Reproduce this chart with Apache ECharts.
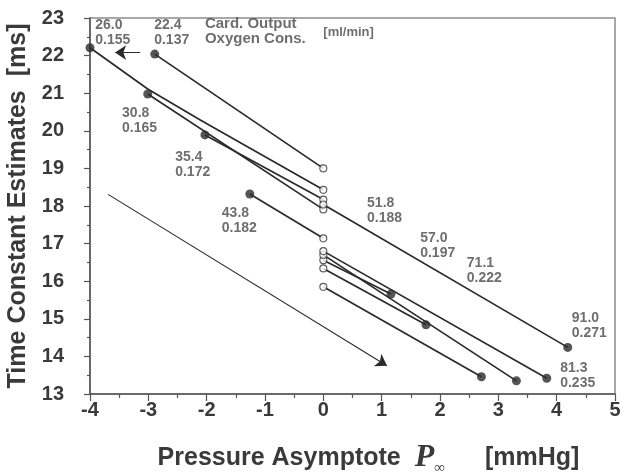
<!DOCTYPE html>
<html>
<head>
<meta charset="utf-8">
<script src="https://cdn.jsdelivr.net/npm/echarts@6/dist/echarts.min.js"></script>
<style>
html, body { margin: 0; padding: 0; background: #fff; }
#chart { width: 627px; height: 475px; }
</style>
</head>
<body>
<div id="chart"></div>
<script>
// filled dot = estimate with P-inf free, open circle = same run with P-inf = 0
const filledX = [-4.0, -2.89, -3.01, -2.03, -1.26, 1.16, 1.76, 2.71, 3.31, 3.83, 4.19]
const filledY = [22.21, 22.04, 20.98, 19.89, 18.32, 15.66, 14.84, 13.46, 13.35, 13.42, 14.24]
const openX = [0, 0, 0, 0, 0, 0, 0, 0, 0, 0, 0]
const openY = [18.43, 19.0, 17.91, 18.17, 17.14, 16.56, 16.34, 15.85, 16.7, 16.8, 18.04]
// extra points read along the first (slightly bent) track, 26.0 -> circle
const bendX = [-3.01, -2.11]
const bendY = [21.11, 20.29]

// arrows (data coords)
const trendArrow = [[-3.69, 18.31], [1.09, 13.75]]
const outputArrow = [[-3.14, 22.08], [-3.57, 22.08]]

// annotations: cardiac output / oxygen consumption
const noteText = [
  '26.0\n0.155', '22.4\n0.137',
  '30.8\n0.165', '35.4\n0.172', '43.8\n0.182',
  '51.8\n0.188', '57.0\n0.197', '71.1\n0.222',
  '91.0\n0.271', '81.3\n0.235'
]
const noteX = [-3.91, -2.9, -3.45, -2.54, -1.74, 0.75, 1.66, 2.46, 4.26, 4.06]
const noteY = [22.61, 22.61, 20.27, 19.1, 17.61, 17.87, 16.94, 16.28, 14.81, 13.48]
const keyNote = { text: 'Card. Output\nOxygen Cons.', x: -2.03, y: 22.65 }
const unitNote = { text: '[ml/min]', x: 0.0, y: 22.62 }

const xTicks = { min: -4, max: 5, interval: 1 }
const yTicks = { min: 13, max: 23, interval: 1 }

const chart = echarts.init(document.getElementById('chart'))
const font = '"Liberation Sans", Arial, sans-serif'
const serif = '"Liberation Serif", "DejaVu Serif", serif'
const ink = '#2a2a2a'
const textInk = '#3a3a3a'
const noteInk = '#4a4a4a'

const segData = filledX.map((x, i) => {
  const pts = [[x, filledY[i]]]
  if (i === 0) bendX.forEach((bx, j) => pts.push([bx, bendY[j]]))
  pts.push([openX[i], openY[i]])
  return { coords: pts }
})

function noteSeries(data, size) {
  return {
    type: 'scatter',
    symbolSize: 0,
    silent: true,
    label: {
      show: true,
      position: 'right',
      distance: 0,
      fontSize: size,
      fontWeight: 'bold',
      lineHeight: 15,
      color: noteInk,
      fontFamily: font,
      formatter: p => p.data[2]
    },
    data: data,
    z: 5
  }
}

const option = {
  animation: false,
  backgroundColor: '#fff',
  grid: {
    left: 90,
    right: 12,
    top: 18,
    bottom: 81,
    containLabel: false,
    outerBoundsMode: 'none',
    show: true,
    borderColor: '#8c8c8c',
    borderWidth: 1.5
  },
  xAxis: {
    type: 'value',
    min: xTicks.min,
    max: xTicks.max,
    interval: xTicks.interval,
    splitLine: { show: false },
    axisLine: { show: true, onZero: false, lineStyle: { color: '#555', width: 1.5 } },
    axisTick: { show: true, length: 7, lineStyle: { color: '#555', width: 1.2 } },
    minorTick: { show: true, splitNumber: 2, length: 4, lineStyle: { color: '#555', width: 1.2 } },
    axisLabel: { fontSize: 20, fontWeight: 'bold', color: textInk, fontFamily: font, margin: 6 },
    name: '{t|Pressure Asymptote}{p|P}{s|\u221e}{u|[mmHg]}',
    nameLocation: 'middle',
    nameGap: 46,
    nameTextStyle: {
      fontSize: 25,
      fontWeight: 'bold',
      color: textInk,
      fontFamily: font,
      padding: [0, 0, 0, 32],
      rich: {
        t: { fontSize: 25, fontWeight: 'bold', fontFamily: font, color: textInk, padding: [0, 14, 0, 0] },
        p: { fontSize: 32, fontFamily: serif, fontStyle: 'italic', color: textInk, lineHeight: 36 },
        s: { fontSize: 15, fontFamily: serif, color: textInk, verticalAlign: 'bottom', lineHeight: 36, padding: [18, 40, 0, 0] },
        u: { fontSize: 25, fontWeight: 'bold', fontFamily: font, color: textInk }
      }
    }
  },
  yAxis: {
    type: 'value',
    min: yTicks.min,
    max: yTicks.max,
    interval: yTicks.interval,
    splitLine: { show: false },
    axisLine: { show: true, onZero: false, lineStyle: { color: '#555', width: 1.5 } },
    axisTick: { show: true, length: 6, lineStyle: { color: '#555', width: 1.2 } },
    minorTick: { show: true, splitNumber: 2, length: 3, lineStyle: { color: '#555', width: 1.2 } },
    axisLabel: { fontSize: 20, fontWeight: 'bold', color: textInk, fontFamily: font, margin: 26 },
    name: 'Time Constant Estimates  [ms]',
    nameLocation: 'middle',
    nameGap: 45,
    nameTextStyle: { fontSize: 25, fontWeight: 'bold', color: textInk, fontFamily: font }
  },
  series: [
    {
      // dot -> circle connections
      type: 'lines',
      coordinateSystem: 'cartesian2d',
      polyline: true,
      symbol: 'none',
      lineStyle: { color: ink, width: 1.7, opacity: 1, join: 'round' },
      data: segData,
      z: 2
    },
    {
      type: 'lines',
      coordinateSystem: 'cartesian2d',
      symbol: ['none', 'arrow'],
      symbolSize: [0, 11],
      lineStyle: { color: ink, width: 1.1, opacity: 1 },
      data: [{ coords: trendArrow }, { coords: outputArrow }],
      z: 2
    },
    {
      type: 'scatter',
      symbol: 'circle',
      symbolSize: 7,
      itemStyle: { color: '#fff', borderColor: '#333', borderWidth: 1.1 },
      data: openX.map((x, i) => [x, openY[i]]),
      z: 3
    },
    {
      type: 'scatter',
      symbol: 'circle',
      symbolSize: 9,
      itemStyle: { color: ink },
      data: filledX.map((x, i) => [x, filledY[i]]),
      z: 4
    },
    noteSeries(noteX.map((x, i) => [x, noteY[i], noteText[i]]), 14),
    noteSeries([[keyNote.x, keyNote.y, keyNote.text]], 15),
    noteSeries([[unitNote.x, unitNote.y, unitNote.text]], 13)
  ]
}

chart.setOption(option)
</script>
</body>
</html>
